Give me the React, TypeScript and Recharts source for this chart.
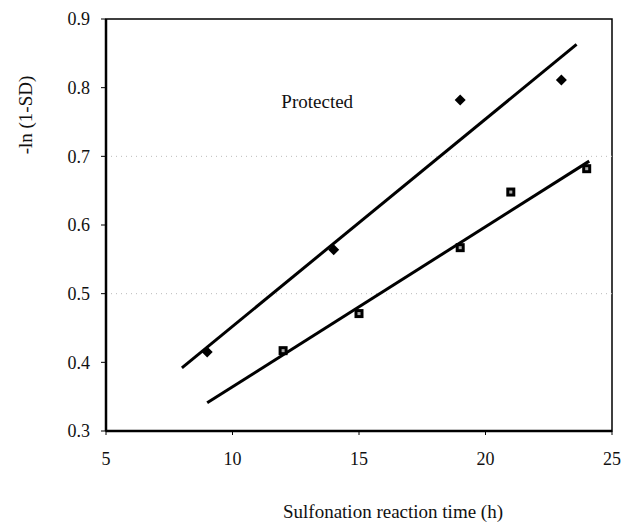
import React from 'react';
import { ComposedChart, Scatter, XAxis, YAxis, ReferenceLine, ReferenceArea, ReferenceDot } from 'recharts';

const protectedTime = [9, 14, 19, 23];
const protectedValue = [0.415, 0.564, 0.782, 0.811];
const unprotectedTime = [12, 15, 19, 21, 24];
const unprotectedValue = [0.417, 0.471, 0.567, 0.648, 0.682];

// fitted lines, end points
const protectedFitTime = [8, 23.6];
const protectedFitValue = [0.392, 0.863];
const unprotectedFitTime = [9, 24.1];
const unprotectedFitValue = [0.341, 0.693];

const xTicks = [5, 10, 15, 20, 25];
const yTicks = [0.3, 0.4, 0.5, 0.6, 0.7, 0.8, 0.9];
const gridValues = [0.7, 0.5];

const toPoints = (xs: number[], ys: number[]) => xs.map((x, i) => ({ x, y: ys[i] }));

const protectedPts = toPoints(protectedTime, protectedValue);
const unprotectedPts = toPoints(unprotectedTime, unprotectedValue);
const protectedFit = toPoints(protectedFitTime, protectedFitValue);
const unprotectedFit = toPoints(unprotectedFitTime, unprotectedFitValue);

const font = '"Liberation Serif", "Times New Roman", serif';

const Diamond = (props: any) => {
  const { cx, cy } = props;
  const r = 5.5;
  return <polygon points={`${cx},${cy - r} ${cx + r},${cy} ${cx},${cy + r} ${cx - r},${cy}`} fill="#000" />;
};

const Square = (props: any) => {
  const { cx, cy } = props;
  return (
    <g>
      <rect x={cx - 4.5} y={cy - 4.5} width={9} height={9} fill="#000" />
      <rect x={cx - 1.5} y={cy - 1.5} width={3} height={3} fill="#aaa" />
    </g>
  );
};

const Empty = () => <g />;

const YTitle = () => (
  <text
    x={0}
    y={0}
    transform="translate(32,115) rotate(-90)"
    textAnchor="middle"
    fontFamily={font}
    fontSize={19}
    fill="#111"
  >
    -ln (1-SD)
  </text>
);

const App = () => {
  return (
    <div style={{ position: 'absolute', left: 0, top: 0, width: 624, height: 525, background: '#fff' }}>
      <ComposedChart width={624} height={525} margin={{ top: 19, right: 12, left: 0, bottom: 0 }}>
        <XAxis
          type="number"
          dataKey="x"
          domain={[5, 25]}
          ticks={xTicks}
          height={94}
          axisLine={{ stroke: '#000', strokeWidth: 2.5 }}
          tickLine={{ stroke: '#000' }}
          tickSize={4}
          tickMargin={17}
          tick={{ fontFamily: font, fontSize: 18, fill: '#111' }}
          label={{
            value: 'Sulfonation reaction time (h)',
            position: 'insideBottom',
            offset: 7,
            dx: 34,
            style: { fontFamily: font, fontSize: 19, fill: '#111' },
          }}
        />
        <YAxis
          type="number"
          dataKey="y"
          domain={[0.3, 0.9]}
          ticks={yTicks}
          width={106}
          axisLine={{ stroke: '#000', strokeWidth: 2.5 }}
          tickLine={{ stroke: '#000' }}
          tickSize={5}
          tickMargin={11}
          tickFormatter={(v: number) => v.toFixed(1)}
          tick={{ fontFamily: font, fontSize: 18, fill: '#111' }}
          label={<YTitle />}
        />
        {gridValues.map((v) => (
          <ReferenceLine key={v} y={v} stroke="#bbb" strokeDasharray="1 4" />
        ))}
        <ReferenceArea x1={5} x2={25} y1={0.3} y2={0.9} fill="none" stroke="#000" strokeWidth={1.5} />
        <Scatter data={protectedFit} line={{ stroke: '#000', strokeWidth: 3 }} shape={<Empty />} isAnimationActive={false} />
        <Scatter data={unprotectedFit} line={{ stroke: '#000', strokeWidth: 3 }} shape={<Empty />} isAnimationActive={false} />
        <Scatter data={protectedPts} shape={<Diamond />} isAnimationActive={false} />
        <Scatter data={unprotectedPts} shape={<Square />} isAnimationActive={false} />
        <ReferenceDot
          x={13.35}
          y={0.78}
          r={0}
          fill="none"
          stroke="none"
          label={{ value: 'Protected', position: 'center', style: { fontFamily: font, fontSize: 19, fill: '#111' } }}
        />
      </ComposedChart>
    </div>
  );
};

export default App;
